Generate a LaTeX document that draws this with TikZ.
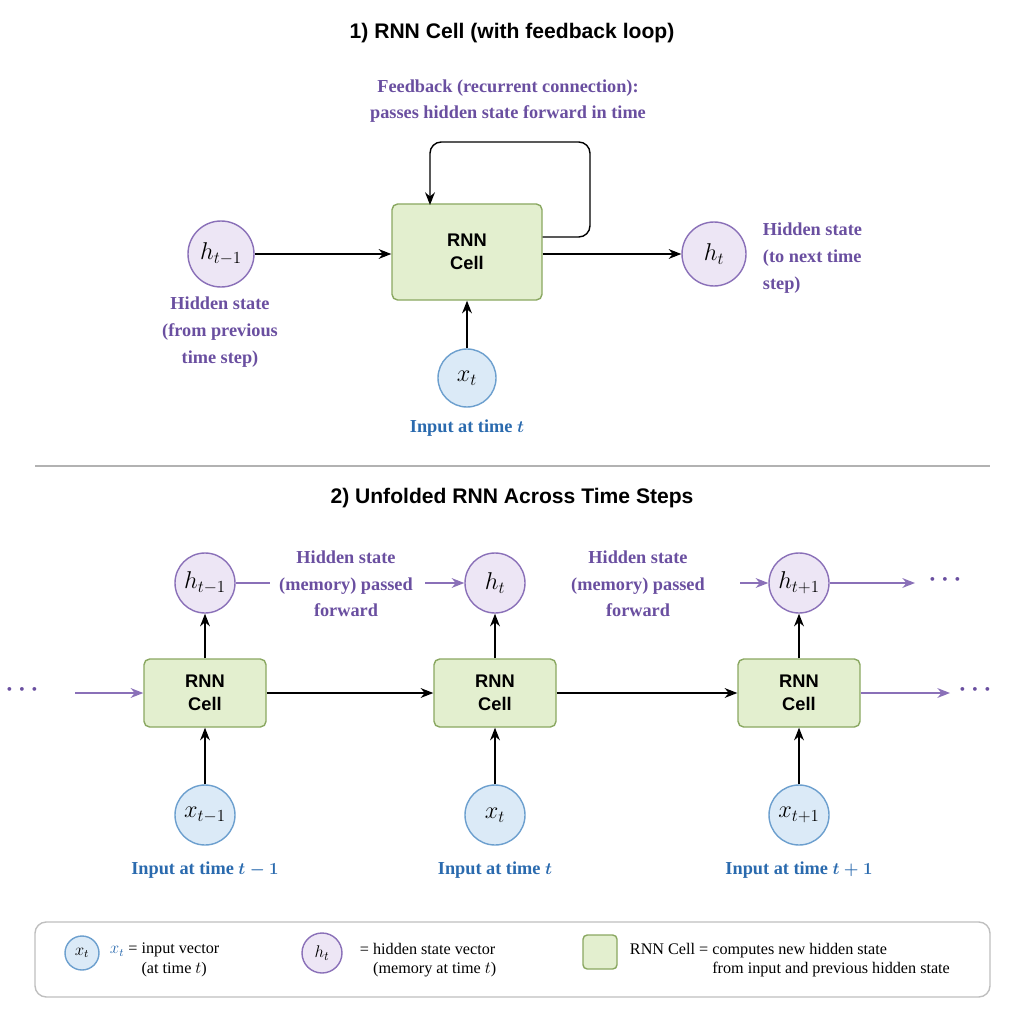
\documentclass[tikz,border=0pt]{standalone}
\usepackage{fontspec}
\setmainfont{Liberation Serif}
\setsansfont{Liberation Sans}
\usetikzlibrary{arrows.meta}
\definecolor{cellfill}{HTML}{E3EFCF}
\definecolor{celldraw}{HTML}{8AA861}
\definecolor{hfill}{HTML}{EDE6F5}
\definecolor{hdraw}{HTML}{8A70B8}
\definecolor{htext}{HTML}{6A4FA0}
\definecolor{xfill}{HTML}{DBEAF7}
\definecolor{xdraw}{HTML}{6C9FCE}
\definecolor{xtext}{HTML}{2A6AAE}
\begin{document}
\begin{tikzpicture}[x=0.025cm,y=-0.025cm,
% common options for the cells:
cell/.style = {draw=celldraw, fill=cellfill, rounded corners=4pt, line width=1pt,
            align=center, font=\sffamily\bfseries\fontsize{13}{16}\selectfont},
% common options for the circles:
hball/.style = {circle, draw=hdraw, fill=hfill, line width=1pt, inner sep=0,
            font=\fontsize{17}{18}\selectfont},
xball/.style = {circle, draw=xdraw, fill=xfill, line width=1pt, inner sep=0,
            font=\fontsize{17}{18}\selectfont},
hlab/.style = {text=htext, align=center, font=\bfseries\fontsize{13}{19}\selectfont},
xlab/.style = {text=xtext, font=\bfseries\boldmath\fontsize{13}{16}\selectfont},
title/.style = {font=\sffamily\bfseries\fontsize{15}{18}\selectfont},
legtext/.style = {align=left, font=\fontsize{11.5}{14}\selectfont, anchor=west},
dots/.style = {text=htext, font=\bfseries\boldmath\fontsize{18}{18}\selectfont},
arr/.style = {-{Stealth[length=9pt,width=7pt]}, line width=1pt},
parr/.style = {arr, draw=hdraw}]
\useasboundingbox (0,0) rectangle (1024,1024);
% part 1
\node[title] (T1) at (512,33) {1) RNN Cell (with feedback loop)};
\node[hlab] (FB) at (508,101) {Feedback (recurrent connection):\\passes hidden state forward in time};
\node[cell, minimum width=150*0.025cm, minimum height=96*0.025cm] (C0) at (467,252) {RNN\\Cell};
\node[hball, minimum size=66*0.025cm] (H0) at (221,254) {$h_{t-1}$};
\node[hball, minimum size=64*0.025cm] (H1) at (714,254) {$h_t$};
\node[xball, minimum size=58*0.025cm] (X0) at (467,378) {$x_t$};
\node[hlab] (HL0) at (220,332) {Hidden state\\(from previous\\time step)};
\node[hlab, align=left, anchor=west] (HL1) at (758,258) {Hidden state\\(to next time\\step)};
\node[xlab] (XL0) at (467,428) {Input at time $t$};
\draw[arr] (H0) -- (C0.west |- H0);
\draw[arr] (C0.east |- H1) -- (H1);
\draw[arr] (X0) -- (C0);
\draw[arr, rounded corners=8pt] (C0.east |- 0,237) -- (590,237) -- (590,142) -- (430,142) -- (430,205);
\draw[gray!60, line width=1pt] (35,466) -- (990,466);
% part 2
\node[title] (T2) at (512,498) {2) Unfolded RNN Across Time Steps};
\foreach \i/\x/\hs/\xs/\xl in {1/205/t-1/t-1/t-1, 2/495/t/t/t, 3/799/t+1/t+1/t+1}{
  \node[cell, minimum width=122*0.025cm, minimum height=68*0.025cm] (C\i) at (\x,693) {RNN\\Cell};
  \node[hball, minimum size=60*0.025cm] (HH\i) at (\x,583) {$h_{\hs}$};
  \node[xball, minimum size=60*0.025cm] (XX\i) at (\x,815) {$x_{\xs}$};
  \node[xlab] (XL\i) at (\x,870) {Input at time $\xl$};
  \draw[arr] (C\i) -- (HH\i);
  \draw[arr] (XX\i) -- (C\i);
}
\draw[arr] (C1) -- (C2);
\draw[arr] (C2) -- (C3);
\node[hlab] (ML1) at (346,584) {Hidden state\\(memory) passed\\forward};
\node[hlab] (ML2) at (638,584) {Hidden state\\(memory) passed\\forward};
\draw[hdraw, line width=1pt] (HH1) -- (270,583);
\draw[parr] (425,583) -- (HH2);
\draw[parr] (740,583) -- (HH3);
\coordinate (E1) at (915,583);
\coordinate (E2) at (950,693);
\coordinate (S0) at (75,693);
\draw[parr] (HH3) -- (E1);
\draw[parr] (S0) -- (C1);
\draw[parr] (C3) -- (E2);
\node[dots] (D1) at (945,580) {$\cdots$};
\node[dots] (D2) at (975,690) {$\cdots$};
\node[dots] (D0) at (22,690) {$\cdots$};
% legend
\draw[gray!50, line width=1pt, rounded corners=8pt] (35,922) rectangle (990,997);
\node[xball, minimum size=34*0.025cm, font=\fontsize{12}{12}\selectfont] (LX) at (82,953) {$x_t$};
\node[legtext] (LXT) at (105,960) {\textcolor{xtext}{$x_t$} = input vector\\\phantom{$x_t$ = }(at time $t$)};
\node[hball, minimum size=40*0.025cm, font=\fontsize{13}{13}\selectfont] (LH) at (322,953) {$h_t$};
\node[legtext] (LHT) at (355,960) {= hidden state vector\\\phantom{= }(memory at time $t$)};
\node[draw=celldraw, fill=cellfill, line width=1pt, rounded corners=3pt, minimum size=34*0.025cm] (LC) at (600,952) {};
\node[legtext] (LCT) at (625,960) {RNN Cell = computes new hidden state\\\phantom{RNN Cell = }from input and previous hidden state};
\end{tikzpicture}
\end{document}
